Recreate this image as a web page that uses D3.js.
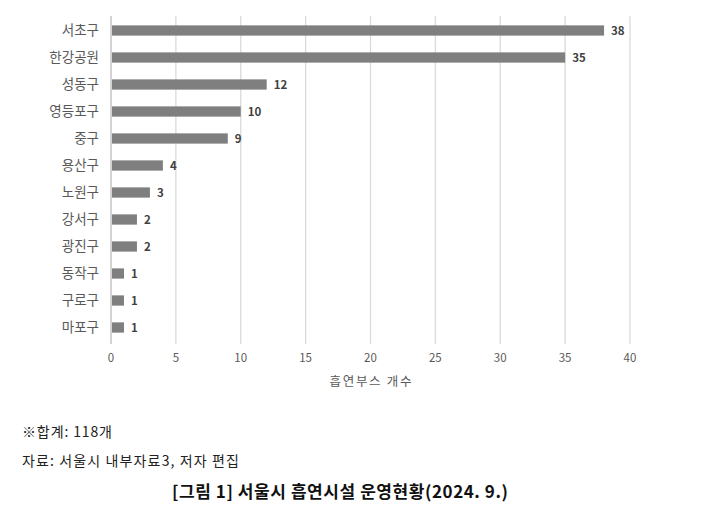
<!DOCTYPE html>
<html>
<head>
<meta charset="utf-8">
<script src="https://cdn.jsdelivr.net/npm/d3@7"></script>
<style>
  body { margin: 0; background: #fff; }
  svg { display: block; font-family: "Noto Sans CJK KR", "Noto Sans", sans-serif; }
</style>
</head>
<body>
<div id="chart"></div>
<script>
var WIDTH = 720
var HEIGHT = 513

var districts = ["서초구","한강공원","성동구","영등포구","중구","용산구","노원구","강서구","광진구","동작구","구로구","마포구"]
var counts = [38,35,12,10,9,4,3,2,2,1,1,1]
var xTicks = [0,5,10,15,20,25,30,35,40]

var margin = {top: 17, left: 111, right: 90, bottom: 170}

var svg = d3.select("#chart").append("svg")
    .attr("width", WIDTH)
    .attr("height", HEIGHT)

var x = d3.scaleLinear().domain([0,40]).range([margin.left, 630])
var y = d3.scaleBand().domain(districts).range([margin.top, 341]).paddingInner(0.62).paddingOuter(0.31)

// gridlines
svg.selectAll(".grid")
    .data(xTicks)
    .enter()
    .append("line")
    .attr("x1", function(d){ return x(d) })
    .attr("x2", function(d){ return x(d) })
    .attr("y1", 16)
    .attr("y2", 344)
    .attr("stroke", function(d){ return d == 0 ? "#c8c8c8" : "#dadada" })
    .attr("stroke-width", function(d){ return d == 0 ? 1.6 : 1.3 })

svg.selectAll(".bar")
    .data(districts)
    .enter()
    .append("rect")
    .attr("x", x(0) + 1)
    .attr("y", function(d){ return y(d) })
    .attr("width", function(d,i){ return x(counts[i]) - x(0) - 1 })
    .attr("height", y.bandwidth())
    .attr("fill", "#7f7f7f")

svg.selectAll(".val")
    .data(districts)
    .enter()
    .append("text")
    .attr("x", function(d,i){ return x(counts[i]) + 7 })
    .attr("y", function(d){ return y(d) + y.bandwidth()/2 })
    .attr("dy", "0.36em")
    .attr("font-size", 11.5)
    .attr("font-weight", 600)
    .attr("fill", "#404040")
    .text(function(d,i){ return counts[i] })

svg.selectAll(".cat")
    .data(districts)
    .enter()
    .append("text")
    .attr("x", 99)
    .attr("y", function(d){ return y(d) + y.bandwidth()/2 })
    .attr("dy", "0.36em")
    .attr("text-anchor", "end")
    .attr("font-size", 13.5)
    .attr("fill", "#595959")
    .text(function(d){ return d })

svg.selectAll(".tick")
    .data(xTicks)
    .enter()
    .append("text")
    .attr("x", function(d){ return x(d) })
    .attr("y", 358)
    .attr("dy", "0.36em")
    .attr("text-anchor", "middle")
    .attr("font-size", 11.5)
    .attr("fill", "#595959")
    .text(function(d){ return d })

svg.append("text")
    .attr("x", (x(0) + x(40)) / 2)
    .attr("y", 381)
    .attr("dy", "0.36em")
    .attr("text-anchor", "middle")
    .attr("font-size", 12.5)
    .attr("fill", "#595959")
    .attr("textLength", 82)
    .attr("lengthAdjust", "spacing")
    .text("흡연부스 개수")

// notes under the chart
svg.append("text")
    .attr("x", 22)
    .attr("y", 432)
    .attr("dy", "0.36em")
    .attr("font-size", 14)
    .attr("fill", "#222")
    .attr("textLength", 90)
    .attr("lengthAdjust", "spacing")
    .text("※합계: 118개")

svg.append("text")
    .attr("x", 22)
    .attr("y", 461)
    .attr("dy", "0.36em")
    .attr("font-size", 14)
    .attr("fill", "#222")
    .attr("textLength", 217)
    .attr("lengthAdjust", "spacing")
    .text("자료: 서울시 내부자료3, 저자 편집")

svg.append("text")
    .attr("x", 172)
    .attr("y", 492)
    .attr("dy", "0.36em")
    .attr("font-size", 17)
    .attr("font-weight", "bold")
    .attr("fill", "#111")
    .attr("textLength", 336)
    .attr("lengthAdjust", "spacing")
    .text("[그림 1] 서울시 흡연시설 운영현황(2024. 9.)")
</script>
</body>
</html>
